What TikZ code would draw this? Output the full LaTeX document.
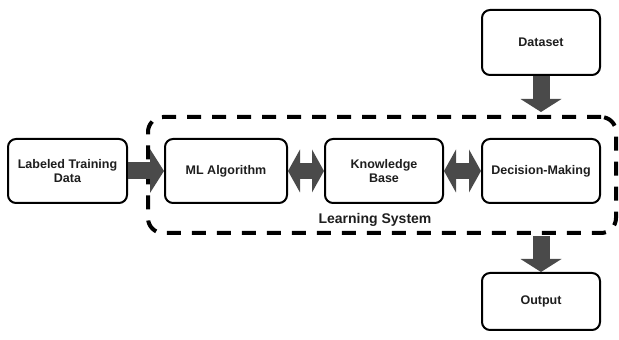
\documentclass[tikz,border=0pt]{standalone}
\usepackage{fontspec}
\setmainfont{Liberation Sans}
\usetikzlibrary{arrows.meta,calc}
\definecolor{arrowc}{HTML}{4A4A4A}
\definecolor{txtc}{HTML}{1E1E1E}
\begin{document}
\begin{tikzpicture}[x=1pt,y=1pt,
  box/.style={draw=black,line width=2pt,rounded corners=8pt,fill=white,
    minimum width=118pt,minimum height=64pt,align=center,inner sep=2pt,
    font=\fontsize{12.5}{14}\selectfont\bfseries,text=txtc},
  blockarrow/.style={draw=arrowc,line width=17pt,
    -{Triangle[length=14pt,width=44pt,line width=0pt]}},
  dblarrow/.style={draw=arrowc,line width=16pt,
    {Triangle[length=12pt,width=43pt,line width=0pt]}-{Triangle[length=12pt,width=43pt,line width=0pt]}},
  vertarrow/.style={draw=arrowc,line width=17pt,
    -{Triangle[length=13pt,width=41pt,line width=0pt]}},
  lsbox/.style={draw=black,line width=4pt,rounded corners=15pt,
    dash pattern=on 14pt off 11pt,minimum width=468pt,minimum height=116pt}
]
\useasboundingbox (0,0) rectangle (619,340);
\node[lsbox] (ls) at (382,165) {};
\node[box,minimum width=119pt] (ltd) at (67.5,169) {Labeled Training\\Data};
\node[box,minimum width=122pt] (ml) at (226,169) {ML Algorithm};
\node[box] (kb) at (384,169) {Knowledge\\Base};
\node[box] (dm) at (541,169) {Decision-Making};
\node[box,minimum height=65pt] (ds) at (541,297.5) {Dataset};
\node[box,minimum height=57pt] (out) at (541,38.5) {Output};
\node[font=\fontsize{14}{16}\selectfont\bfseries,text=txtc] (lst) at (375,120) {Learning System};
\coordinate (dsin) at ($(ds.south |- ls.north)+(0,3)$);
\coordinate (outst) at ($(out.north |- ls.south)+(0,-1)$);
\draw[blockarrow] (ltd.east) -- (ml.west);
\draw[dblarrow] (ml.east) -- (kb.west);
\draw[dblarrow] (kb.east) -- (dm.west);
\draw[vertarrow] (ds.south) -- (dsin);
\draw[vertarrow] (outst) -- (out.north);
\end{tikzpicture}
\end{document}
